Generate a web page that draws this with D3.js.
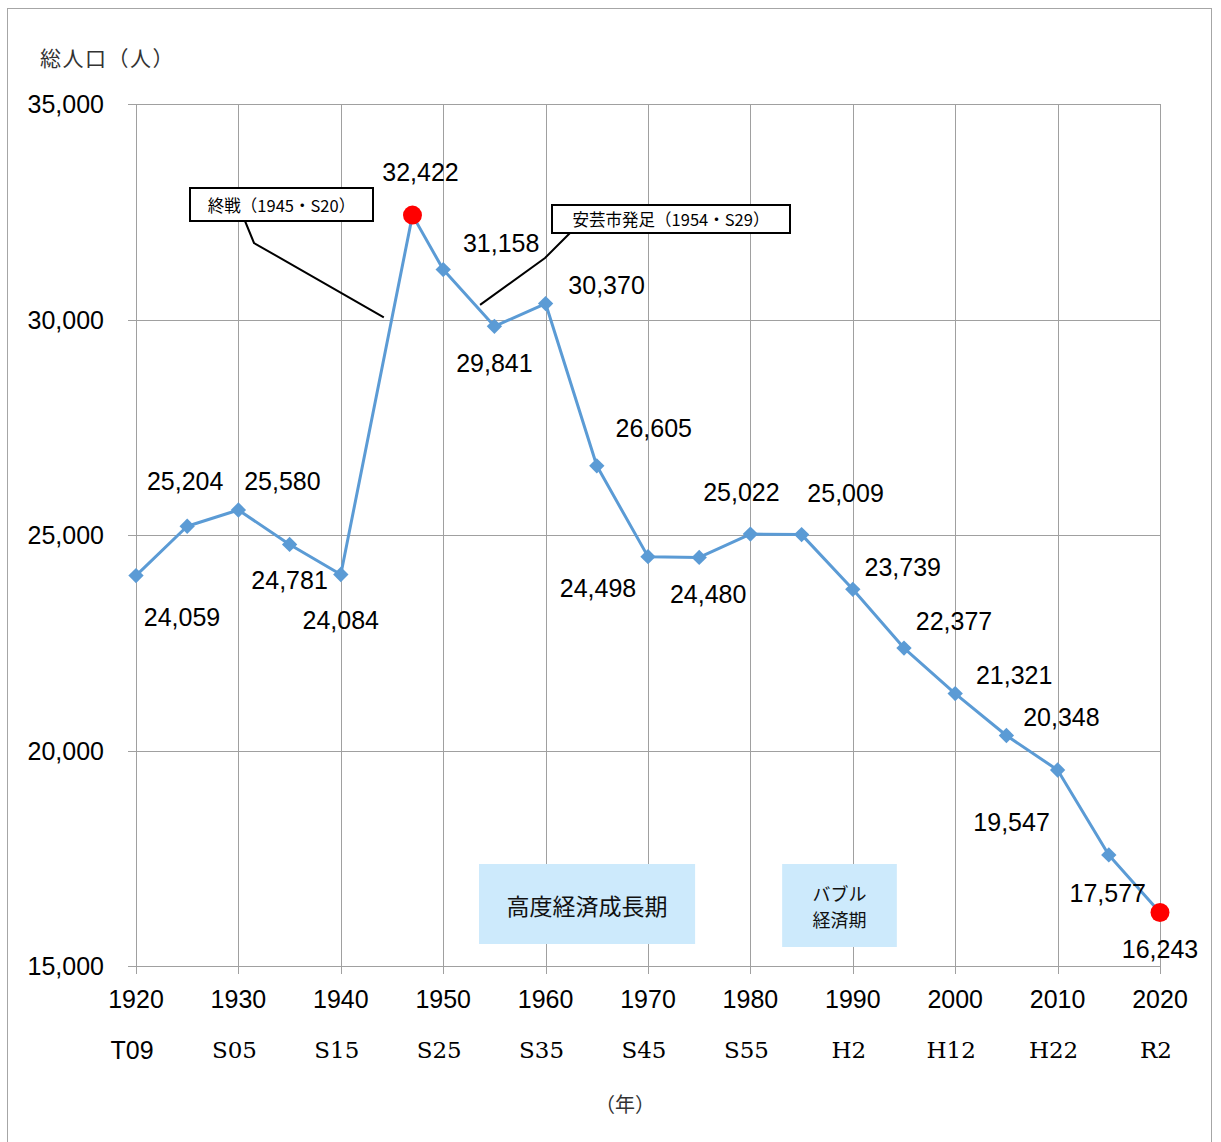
<!DOCTYPE html>
<html>
<head>
<meta charset="utf-8">
<script src="https://cdn.jsdelivr.net/npm/d3@7"></script>
<style>
  body { margin: 0; background: #fff; }
  svg text { font-family: "Liberation Sans", Arial, sans-serif; }
</style>
</head>
<body>
<div id="chart"></div>
<script>
// 年と総人口
const years = [1920, 1925, 1930, 1935, 1940, 1947, 1950, 1955, 1960, 1965, 1970,
               1975, 1980, 1985, 1990, 1995, 2000, 2005, 2010, 2015, 2020];
const population = [24059, 25204, 25580, 24781, 24084, 32422, 31158, 29841, 30370, 26605, 24498,
                    24480, 25022, 25009, 23739, 22377, 21321, 20348, 19547, 17577, 16243];
// 赤丸で強調する年
const highlightYears = [1947, 2020];

const xTicks = [1920, 1930, 1940, 1950, 1960, 1970, 1980, 1990, 2000, 2010, 2020];
const eraLabels = ["T09", "S05", "S15", "S25", "S35", "S45", "S55", "H2", "H12", "H22", "R2"];
const yTicks = [15000, 20000, 25000, 30000, 35000];

// 吹き出し注記
const callouts = [
  {text: "終戦（1945・S20）", year: 1944.2, value: 30050},
  {text: "安芸市発足（1954・S29）", year: 1953.6, value: 30340}
];
// 期間の帯
const periods = [
  {lines: ["高度経済成長期"], from: 1953.5, to: 1974.6},
  {lines: ["バブル", "経済期"], from: 1983.1, to: 1994.3}
];

// ラベルの位置（点からのずれ）
const labelOffset = [
  [46, 41], [-2, -45], [44, -29], [0, 36], [0, 46], [8, -43], [58, -27], [0, 37],
  [61, -19], [57, -38], [-50, 31], [9, 37], [-9, -42], [44, -42], [50, -22],
  [50, -27], [59, -19], [55, -19], [-46, 52], [-1, 38], [0, 37]
];

const W = 1221, H = 1142;
const svg = d3.select("#chart").append("svg")
  .attr("width", W).attr("height", H);

// 外枠
svg.append("rect")
  .attr("x", 7.5).attr("y", 8.5).attr("width", 1204).attr("height", 1150)
  .attr("fill", "none").attr("stroke", "#a6a6a6").attr("stroke-width", 1);

const x = d3.scaleLinear().domain([1920, 2020]).range([136, 1160]);
const y = d3.scaleLinear().domain([15000, 35000]).range([966, 104]);
const gridColor = "#a0a0a0";

// 縦グリッド
svg.append("g").selectAll("line")
  .data(xTicks)
  .join("line")
    .attr("x1", d => Math.round(x(d)) + 0.5).attr("x2", d => Math.round(x(d)) + 0.5)
    .attr("y1", y(35000)).attr("y2", y(15000) + 8)
    .attr("stroke", gridColor);

// 横グリッド
svg.append("g").selectAll("line")
  .data(yTicks)
  .join("line")
    .attr("x1", x(1920) - 8).attr("x2", x(2020))
    .attr("y1", d => Math.round(y(d)) + 0.5).attr("y2", d => Math.round(y(d)) + 0.5)
    .attr("stroke", gridColor);

// Y軸ラベル
svg.append("g").selectAll("text")
  .data(yTicks)
  .join("text")
    .attr("x", 104).attr("y", d => y(d))
    .attr("text-anchor", "end").attr("dominant-baseline", "central")
    .attr("font-size", 25).attr("fill", "#000")
    .text(d => d3.format(",")(d));

// X軸ラベル（西暦）
svg.append("g").selectAll("text")
  .data(xTicks)
  .join("text")
    .attr("x", d => x(d)).attr("y", 999)
    .attr("text-anchor", "middle").attr("dominant-baseline", "central")
    .attr("font-size", 25).attr("fill", "#000")
    .text(d => d);

// X軸ラベル（和暦）
svg.append("g").selectAll("text")
  .data(xTicks)
  .join("text")
    .attr("x", d => x(d) - 4).attr("y", 1050)
    .attr("text-anchor", "middle").attr("dominant-baseline", "central")
    .attr("font-size", (d, i) => i === 0 ? 25 : 23)
    .style("font-family", (d, i) => i === 0 ? "Liberation Sans, sans-serif" : "DejaVu Serif, serif")
    .attr("fill", "#000")
    .text((d, i) => eraLabels[i]);

// 軸タイトル
svg.append("text")
  .attr("x", 40).attr("y", 57)
  .attr("dominant-baseline", "central")
  .style("font-family", "Noto Sans CJK JP, sans-serif")
  .attr("font-size", 21).attr("letter-spacing", 1.5).attr("fill", "#333")
  .text("総人口（人）");

svg.append("text")
  .attr("x", 625).attr("y", 1103)
  .attr("text-anchor", "middle").attr("dominant-baseline", "central")
  .style("font-family", "Noto Sans CJK JP, sans-serif")
  .attr("font-size", 20).attr("fill", "#333")
  .text("（年）");

// 期間の帯
const band = svg.append("g").selectAll("g")
  .data(periods)
  .join("g");
band.append("rect")
  .attr("x", d => x(d.from)).attr("y", 864)
  .attr("width", d => x(d.to) - x(d.from)).attr("height", (d, i) => i === 0 ? 80 : 83)
  .attr("fill", "#cdeafc");
band.each(function(d, i) {
  const cx = (x(d.from) + x(d.to)) / 2;
  const cy = i === 0 ? 905 : 906;
  const g = d3.select(this);
  d.lines.forEach((t, k) => {
    g.append("text")
      .attr("x", cx).attr("y", cy + (k - (d.lines.length - 1) / 2) * 26)
      .attr("text-anchor", "middle").attr("dominant-baseline", "central")
      .style("font-family", "Noto Sans CJK JP, sans-serif")
      .attr("font-size", i === 0 ? 23 : 18).attr("fill", "#111")
      .text(t);
  });
});

// 折れ線
const data = years.map((yr, i) => ({year: yr, value: population[i], off: labelOffset[i]}));
const line = d3.line().x(d => x(d.year)).y(d => y(d.value));
svg.append("path")
  .datum(data)
  .attr("d", line)
  .attr("fill", "none").attr("stroke", "#5b9bd5").attr("stroke-width", 3)
  .attr("stroke-linejoin", "round");

// マーカー
const diamond = d3.symbol().type(d3.symbolDiamond2).size(150);
svg.append("g").selectAll("path")
  .data(data.filter(d => !highlightYears.includes(d.year)))
  .join("path")
    .attr("d", diamond)
    .attr("transform", d => `translate(${x(d.year)},${y(d.value)})`)
    .attr("fill", "#5b9bd5");
svg.append("g").selectAll("circle")
  .data(data.filter(d => highlightYears.includes(d.year)))
  .join("circle")
    .attr("cx", d => x(d.year)).attr("cy", d => y(d.value)).attr("r", 9.5)
    .attr("fill", "#ff0000");

// データラベル
svg.append("g").selectAll("text")
  .data(data)
  .join("text")
    .attr("x", d => x(d.year) + d.off[0]).attr("y", d => y(d.value) + d.off[1])
    .attr("text-anchor", "middle").attr("dominant-baseline", "central")
    .attr("font-size", 25).attr("fill", "#000")
    .text(d => d3.format(",")(d.value));

// 吹き出し
const boxes = [
  {x0: 190, y0: 188, x1: 373, y1: 221, path: [[245, 221], [254, 243]]},
  {x0: 552, y0: 205, x1: 790, y1: 233, path: [[570, 233], [545, 258]]}
];
callouts.forEach((c, i) => {
  const b = boxes[i];
  const pts = b.path.concat([[x(c.year), y(c.value)]]);
  svg.append("path")
    .attr("d", d3.line()(pts))
    .attr("fill", "none").attr("stroke", "#000").attr("stroke-width", 2);
  svg.append("rect")
    .attr("x", b.x0).attr("y", b.y0).attr("width", b.x1 - b.x0).attr("height", b.y1 - b.y0)
    .attr("fill", "#fff").attr("stroke", "#000").attr("stroke-width", 2);
  svg.append("text")
    .attr("x", (b.x0 + b.x1) / 2).attr("y", (b.y0 + b.y1) / 2)
    .attr("text-anchor", "middle").attr("dominant-baseline", "central")
    .style("font-family", "Noto Sans CJK JP, sans-serif")
    .attr("font-size", 16.5).attr("fill", "#000")
    .text(c.text);
});
</script>
</body>
</html>
